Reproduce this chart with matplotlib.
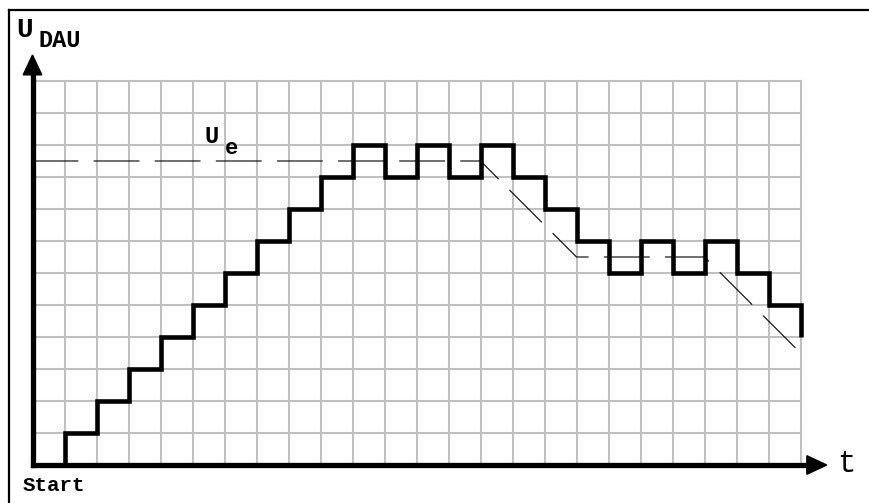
import matplotlib
matplotlib.use('Agg')
import matplotlib.pyplot as plt
from matplotlib.patches import Polygon

# staircase output of the DAU (post steps), one level per clock cell
t_edges = [1, 1, 2, 3, 4, 5, 6, 7, 8, 9, 10, 11, 12, 13, 14, 15, 16, 17, 18, 19, 20, 21, 22, 23, 24]
u_dau   = [0, 1, 2, 3, 4, 5, 6, 7, 8, 9, 10, 9, 10, 9, 10, 9, 8, 7, 6, 7, 6, 7, 6, 5, 4]

# input voltage U_e (dashed)
t_ref = [0, 14, 17, 21, 24]
u_ref = [9.5, 9.5, 6.5, 6.5, 3.5]

N_T, N_U = 24, 12
PX = 32.0                     # px per grid cell
X0, Y0 = 32.5, 465.0          # pixel position of origin
W, H = 869, 503

plt.rcParams['lines.scale_dashes'] = False
fig = plt.figure(figsize=(W/100, H/100), dpi=100)
ax = fig.add_axes([0, 0, 1, 1])
ax.set_xlim(-X0/PX, (W-X0)/PX)
ax.set_ylim((Y0-H)/PX, Y0/PX)
ax.axis('off')

# grid
for i in range(N_T+1):
    ax.plot([i, i], [0, N_U], color='#c0c0c0', lw=1.5, zorder=1)
for j in range(N_U+1):
    ax.plot([0, N_T], [j, j], color='#c0c0c0', lw=1.5, zorder=1)

# reference and staircase
ax.plot(t_ref, u_ref, color='black', lw=0.8, dashes=(33, 11), zorder=2)
ax.step(t_edges, u_dau, where='post', color='black', lw=3.3, zorder=3,
        solid_joinstyle='miter', solid_capstyle='butt')

# axes with arrows
yt, xt = (Y0-55)/PX, (826.7-X0)/PX
hl, hw = 0.62, 0.29
ax.plot([0, 0], [0, yt-hl+0.05], color='black', lw=3.8, zorder=4, solid_capstyle='projecting')
ax.plot([0, xt-hl+0.05], [0, 0], color='black', lw=3.8, zorder=4, solid_capstyle='projecting')
ax.add_patch(Polygon([[0, yt], [-hw, yt-hl], [hw, yt-hl]], closed=True, color='black', zorder=4))
ax.add_patch(Polygon([[xt, 0], [xt-hl, hw], [xt-hl, -hw]], closed=True, color='black', zorder=4))

# frame (top and left only)
bx, by = (9-X0)/PX, (Y0-10)/PX
ax.plot([bx, (W+5-X0)/PX], [by, by], color='black', lw=1.6, clip_on=False, zorder=5)
ax.plot([bx, bx], [by, (Y0-H-5)/PX], color='black', lw=1.6, clip_on=False, zorder=5)

# labels
mono = 'Liberation Mono'
ax.text(-0.5, 13.375, 'U', fontsize=20, fontweight='bold', family=mono, ha='left', va='baseline')
ax.text(0.2, 13.06, 'DAU', fontsize=17, fontweight='bold', family=mono, ha='left', va='baseline')
ax.text(5.38, 10.06, 'U', fontsize=17, fontweight='bold', family=mono, ha='left', va='baseline')
ax.text(6.0, 9.72, 'e', fontsize=16, fontweight='bold', family=mono, ha='left', va='baseline')
ax.text(25.15, -0.21, 't', fontsize=22, family=mono, ha='left', va='baseline')
ax.text(-0.32, -0.80, 'Start', fontsize=15, fontweight='bold', family=mono, ha='left', va='baseline')

fig.savefig('out.png', dpi=100)
